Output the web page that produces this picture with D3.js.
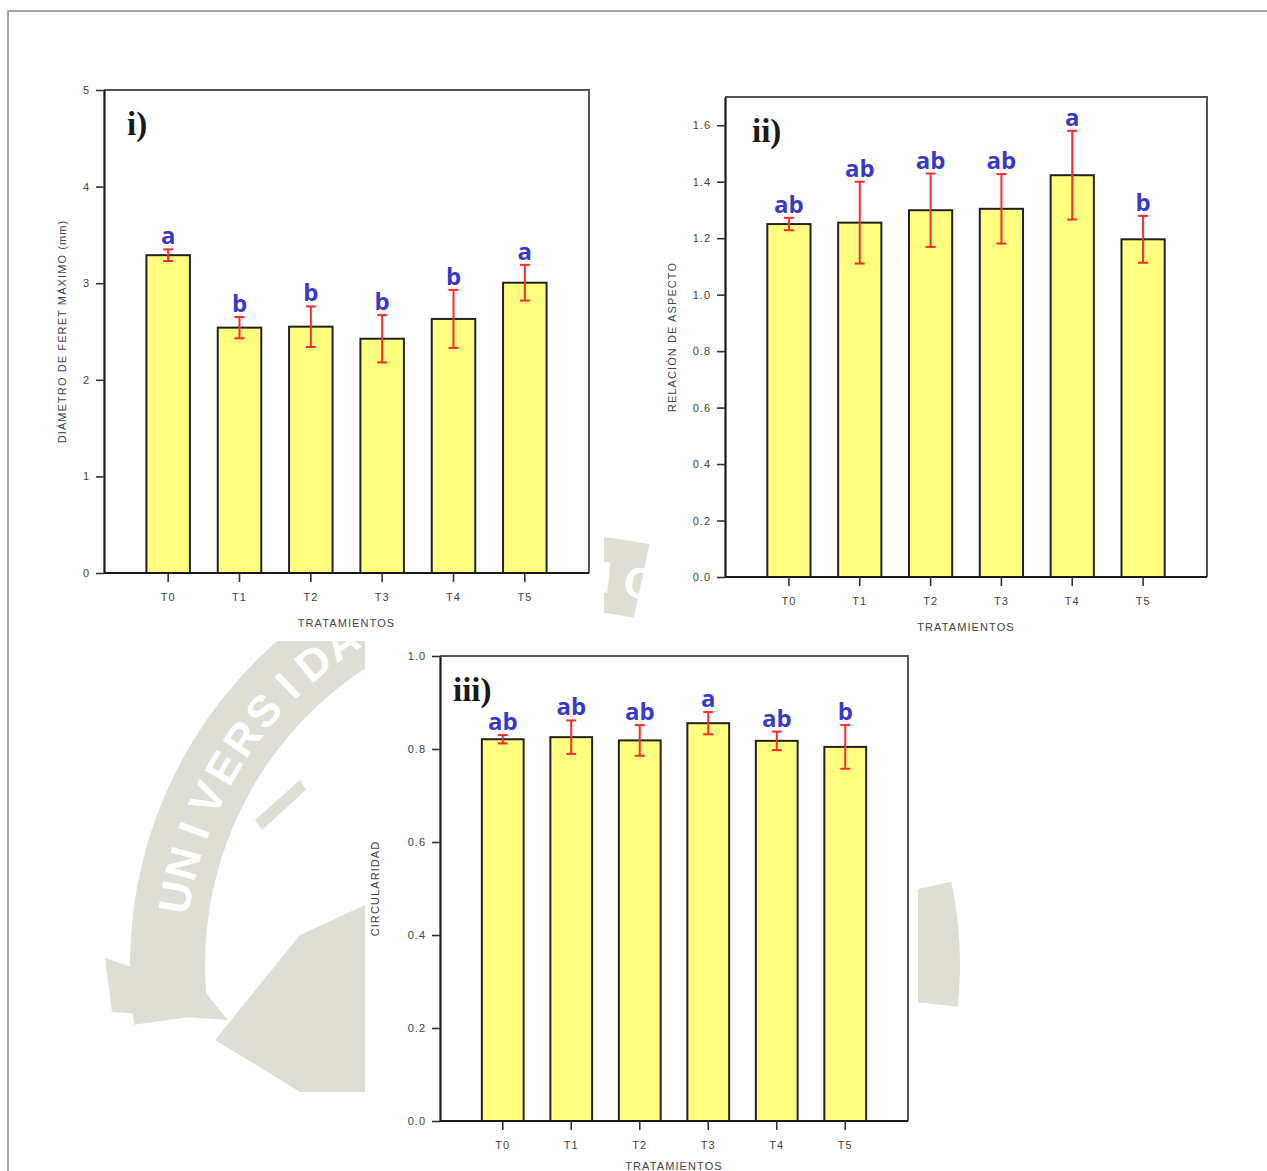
<!DOCTYPE html>
<html>
<head>
<meta charset="utf-8">
<script src="https://cdn.jsdelivr.net/npm/d3@7"></script>
<style>
  body { margin: 0; background: #fff; }
  .tick text { font-family: "Liberation Sans", Arial, sans-serif; font-size: 11px; fill: #444; letter-spacing: 1px; }
  .axis-title { font-family: "Liberation Sans", Arial, sans-serif; font-size: 11px; fill: #444; letter-spacing: 1.1px; }
  .sig { font-family: "Open Sans", sans-serif; font-weight: bold; font-size: 24px; fill: #3838cc; }
  .panel-tag { font-family: "Liberation Serif", "Times New Roman", serif; font-weight: bold; font-size: 33px; fill: #1a1a1a; }
</style>
</head>
<body>
<div id="chart"></div>
<script>
// ---- data ----
const categories = ["T0", "T1", "T2", "T3", "T4", "T5"];

const feretMean = [3.29, 2.54, 2.55, 2.425, 2.63, 3.005];
const feretErr = [0.06, 0.11, 0.21, 0.245, 0.30, 0.185];
const feretLetters = ["a", "b", "b", "b", "b", "a"];
const feretTicks = [0, 1, 2, 3, 4, 5];

const aspectMean = [1.25, 1.255, 1.299, 1.304, 1.423, 1.196];
const aspectErr = [0.022, 0.145, 0.13, 0.123, 0.157, 0.083];
const aspectLetters = ["ab", "ab", "ab", "ab", "a", "b"];
const aspectTicks = [0, 0.2, 0.4, 0.6, 0.8, 1.0, 1.2, 1.4, 1.6];

const circMean = [0.821, 0.8255, 0.8185, 0.8555, 0.8175, 0.8045];
const circErr = [0.009, 0.036, 0.033, 0.024, 0.02, 0.047];
const circLetters = ["ab", "ab", "ab", "a", "ab", "b"];
const circTicks = [0, 0.2, 0.4, 0.6, 0.8, 1.0];

const W = 1267, H = 1171;

const svg = d3.select("#chart").append("svg")
    .attr("width", W)
    .attr("height", H);

// ---- faint seal watermark in the background ----
const wm = svg.append("g").attr("class", "watermark");
const sealX = 560, sealY = 965, wmGray = "#dfded4";
const deg = Math.PI / 180;

// ribbon on the upper-left of the seal (d3.arc angles: 0 = 12 o'clock)
wm.append("path")
    .attr("transform", "translate(" + sealX + "," + sealY + ")")
    .attr("d", d3.arc().innerRadius(355).outerRadius(430).startAngle(262 * deg).endAngle(372 * deg)())
    .attr("fill", wmGray);
// pieces on the right side
wm.append("path")
    .attr("transform", "translate(" + sealX + "," + sealY + ")")
    .attr("d", d3.arc().innerRadius(360).outerRadius(405).startAngle(42 * deg).endAngle(60 * deg)())
    .attr("fill", wmGray);
wm.append("path")
    .attr("transform", "translate(" + sealX + "," + sealY + ")")
    .attr("d", d3.arc().innerRadius(355).outerRadius(400).startAngle(78 * deg).endAngle(96 * deg)())
    .attr("fill", wmGray);
// inner shield pieces on the left
wm.append("path")
    .attr("d", "M215,1040 L300,935 L365,905 L365,1092 L300,1092 Z")
    .attr("fill", wmGray);
wm.append("path")
    .attr("d", "M105,958 L205,992 L228,1020 L112,1012 Z")
    .attr("fill", wmGray);
wm.append("path")
    .attr("d", "M255,820 L300,780 L306,790 L262,830 Z")
    .attr("fill", wmGray);

// ribbon lettering, one glyph at a time along the arc
const sealText = "UNIVERSIDAD CATÓLICA";
const letterStep = 5.1;
wm.selectAll(".seal-letter")
    .data(sealText.split(""))
    .enter().append("text")
    .attr("class", "seal-letter")
    .attr("font-family", "Liberation Sans, Arial, sans-serif")
    .attr("font-weight", "bold")
    .attr("font-size", 44)
    .attr("fill", "#fff")
    .attr("text-anchor", "middle")
    .attr("transform", (d, i) => {
        let a = (190 + i * letterStep) * deg;
        let px = sealX + 375 * Math.cos(a), py = sealY + 375 * Math.sin(a);
        return "translate(" + px + "," + py + ") rotate(" + (190 + i * letterStep + 90) + ")";
    })
    .text(d => d);

// white areas behind the three pasted graphs
svg.append("rect").attr("x", 9).attr("y", 12).attr("width", 595).attr("height", 629).attr("fill", "#fff");
svg.append("rect").attr("x", 663).attr("y", 12).attr("width", 560).attr("height", 628).attr("fill", "#fff");
svg.append("rect").attr("x", 365).attr("y", 641).attr("width", 553).attr("height", 530).attr("fill", "#fff");

// page frame
svg.append("path")
    .attr("d", "M8," + H + " L8,11 L" + W + ",11")
    .attr("fill", "none")
    .attr("stroke", "#8a8a8a")
    .attr("stroke-width", 1.5);


class BarPanel {

    constructor(cfg) {
        this.cfg = cfg;
        this.initVis();
    }

    initVis() {
        let vis = this;
        let c = vis.cfg;

        vis.g = svg.append("g");

        vis.x = d3.scaleBand()
            .domain(categories)
            .range([c.left + 28.5, c.right - 28.5])
            .paddingInner(0.39)
            .paddingOuter(0.195);

        vis.y = d3.scaleLinear()
            .domain([0, c.yMax])
            .range([c.bottom, c.top]);

        vis.updateVis();
    }

    updateVis() {
        let vis = this;
        let c = vis.cfg;
        let rows = categories.map((k, i) => ({
            key: k, mean: c.mean[i], err: c.err[i], letter: c.letters[i]
        }));

        // top + right frame (lighter)
        vis.g.append("path")
            .attr("d", "M" + c.left + "," + c.top + " L" + c.right + "," + c.top + " L" + c.right + "," + c.bottom)
            .attr("fill", "none")
            .attr("stroke", "#555")
            .attr("stroke-width", 2);

        // bars
        vis.g.selectAll(".bar")
            .data(rows)
            .enter().append("rect")
            .attr("class", "bar")
            .attr("x", d => vis.x(d.key))
            .attr("y", d => vis.y(d.mean))
            .attr("width", vis.x.bandwidth())
            .attr("height", d => c.bottom - vis.y(d.mean))
            .attr("fill", "#ffff80")
            .attr("stroke", "#222")
            .attr("stroke-width", 2);

        // error bars
        let eb = vis.g.selectAll(".err")
            .data(rows)
            .enter().append("g")
            .attr("class", "err")
            .attr("stroke", "#ff2a2a")
            .attr("stroke-width", 2);

        eb.append("line")
            .attr("x1", d => vis.x(d.key) + vis.x.bandwidth() / 2)
            .attr("x2", d => vis.x(d.key) + vis.x.bandwidth() / 2)
            .attr("y1", d => vis.y(d.mean - d.err))
            .attr("y2", d => vis.y(d.mean + d.err));
        [-1, 1].forEach(s => {
            eb.append("line")
                .attr("x1", d => vis.x(d.key) + vis.x.bandwidth() / 2 - 5)
                .attr("x2", d => vis.x(d.key) + vis.x.bandwidth() / 2 + 5)
                .attr("y1", d => vis.y(d.mean + s * d.err))
                .attr("y2", d => vis.y(d.mean + s * d.err));
        });

        // significance letters
        vis.g.selectAll(".sig")
            .data(rows)
            .enter().append("text")
            .attr("class", "sig")
            .attr("text-anchor", "middle")
            .attr("x", d => vis.x(d.key) + vis.x.bandwidth() / 2)
            .attr("y", d => vis.y(d.mean + d.err) - 5)
            .text(d => d.letter);

        // axes
        let yAxis = d3.axisLeft(vis.y)
            .tickValues(c.ticks)
            .tickFormat(c.fmt)
            .tickSize(8)
            .tickSizeOuter(0)
            .tickPadding(6);
        let xAxis = d3.axisBottom(vis.x)
            .tickSize(9)
            .tickSizeOuter(0)
            .tickPadding(11);

        let ya = vis.g.append("g")
            .attr("transform", "translate(" + c.left + ",0)")
            .call(yAxis);
        let xa = vis.g.append("g")
            .attr("transform", "translate(0," + c.bottom + ")")
            .call(xAxis);
        xa.select(".domain").attr("d", "M" + c.left + ",0 H" + c.right);

        [ya, xa].forEach(a => {
            a.select(".domain").attr("stroke", "#1a1a1a").attr("stroke-width", 2.2);
            a.selectAll(".tick line").attr("stroke", "#333").attr("stroke-width", 1.6);
        });

        // titles
        vis.g.append("text")
            .attr("class", "axis-title")
            .attr("text-anchor", "middle")
            .attr("transform", "translate(" + (c.left - c.yTitleOff) + "," + ((c.top + c.bottom) / 2) + ") rotate(-90)")
            .attr("dy", "0.35em")
            .text(c.yTitle);

        vis.g.append("text")
            .attr("class", "axis-title")
            .attr("text-anchor", "middle")
            .attr("x", (c.left + c.right) / 2)
            .attr("y", c.bottom + c.xTitleOff)
            .attr("dy", "0.35em")
            .text("TRATAMIENTOS");

        vis.g.append("text")
            .attr("class", "panel-tag")
            .attr("x", c.left + c.tagDx)
            .attr("y", c.top + 45)
            .text(c.tag);
    }
}

new BarPanel({
    left: 104, right: 589, top: 90, bottom: 573, yMax: 5,
    mean: feretMean, err: feretErr, letters: feretLetters,
    ticks: feretTicks, fmt: d3.format("d"),
    yTitle: "DIÁMETRO DE FERET MÁXIMO (mm)", yTitleOff: 42, xTitleOff: 50,
    tag: "i)", tagDx: 23
});

new BarPanel({
    left: 725, right: 1207, top: 97, bottom: 577, yMax: 1.7,
    mean: aspectMean, err: aspectErr, letters: aspectLetters,
    ticks: aspectTicks, fmt: d3.format(".1f"),
    yTitle: "RELACIÓN DE ASPECTO", yTitleOff: 53, xTitleOff: 50,
    tag: "ii)", tagDx: 27
});

new BarPanel({
    left: 440, right: 908, top: 656, bottom: 1121, yMax: 1.0,
    mean: circMean, err: circErr, letters: circLetters,
    ticks: circTicks, fmt: d3.format(".1f"),
    yTitle: "CIRCULARIDAD", yTitleOff: 65, xTitleOff: 45,
    tag: "iii)", tagDx: 13
});
</script>
</body>
</html>
